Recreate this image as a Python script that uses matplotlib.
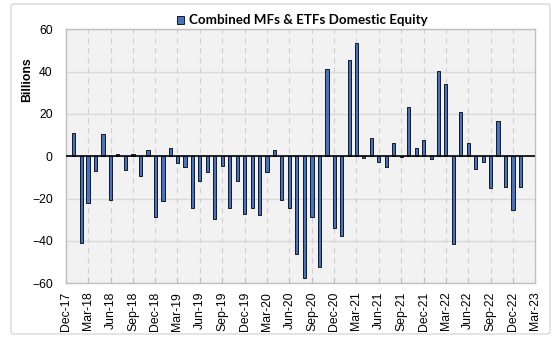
import matplotlib
matplotlib.use("Agg")
import matplotlib.pyplot as plt
import matplotlib.dates as mdates
from matplotlib.patches import Patch, FancyBboxPatch
import pandas as pd

months = pd.date_range("2018-01-01", periods=61, freq="MS")
values = [10.9, -41.1, -22.2, -6.9, 10.4, -20.8, 0.9, -6.6, 0.9, -9.4, 2.8, -28.8,
          -21.1, 3.8, -3.1, -5.0, -24.6, -11.7, -7.6, -29.8, -4.7, -24.6, -11.7, -27.4,
          -24.6, -27.9, -7.6, 2.8, -20.8, -24.6, -46.3, -57.6, -28.8, -52.4, 41.1, -34.0,
          -37.5, 45.5, 53.4, -0.6, 8.5, -2.8, -5.2, 6.1, -0.4, 23.1, 3.8, 7.6,
          -1.1, 40.2, 34.0, -41.3, 20.8, 6.3, -5.8, -2.5, -14.8, 16.5, -14.3, -25.5,
          -14.3]
series_name = "Combined MFs & ETFs Domestic Equity"
y_label = "Billions"
y_ticks = [-60, -40, -20, 0, 20, 40, 60]
x_start, x_end = "2017-12-01", "2023-03-01"

W, H = 558, 340
fig = plt.figure(figsize=(W / 100, H / 100), dpi=100)
fig.patch.set_facecolor("white")

# chart area border
border = FancyBboxPatch((11 / W, 6 / H), (550 - 11) / W, (336 - 6) / H,
                        boxstyle="round,pad=0,rounding_size=0.006",
                        transform=fig.transFigure, fill=False,
                        edgecolor="#D9D9D9", linewidth=1.0)
fig.patches.append(border)

ax = fig.add_axes([66 / W, 1 - 283.3 / H, (535 - 66) / W, (283.3 - 29.3) / H])
ax.set_facecolor("#F2F2F2")

ax.bar(months, values, width=13, color="#4472C4", edgecolor="black",
       linewidth=0.6, zorder=3)
ax.axhline(0, color="black", linewidth=1.2, zorder=4)

ax.set_xlim(pd.Timestamp(x_start), pd.Timestamp(x_end))
ax.set_ylim(-60, 60)
ax.set_yticks(y_ticks)
ax.xaxis.set_major_locator(mdates.MonthLocator(bymonth=[3, 6, 9, 12]))
ax.xaxis.set_major_formatter(mdates.DateFormatter("%b-%y"))

ax.tick_params(axis="y", length=0, pad=9.5)
ax.tick_params(axis="x", direction="in", length=4, color="#BFBFBF", pad=6)
plt.setp(ax.get_xticklabels(), rotation=90, fontfamily="Liberation Sans", fontsize=8.8)
plt.setp(ax.get_yticklabels(), fontfamily="Liberation Sans", fontsize=8.8)

ax.grid(axis="y", color="#D9D9D9", linewidth=1.0, linestyle="-", zorder=0)
ax.grid(axis="x", color="#D0D0D0", linewidth=0.8, linestyle=(0, (5, 4)), zorder=0)
ax.set_axisbelow(True)
for sp in ax.spines.values():
    sp.set_color("#BFBFBF")
    sp.set_linewidth(1.0)

fig.text(27 / W, 1 - 80 / H, y_label, rotation=90, ha="center", va="center",
         fontfamily="Liberation Sans", fontweight="bold", fontsize=8.8)

handle = Patch(facecolor="#4472C4", edgecolor="black", linewidth=0.6)
fig.legend([handle], [series_name], loc="center", bbox_to_anchor=(302 / W, 1 - 20.4 / H),
           frameon=False, handlelength=0.55, handleheight=0.55, handletextpad=0.35,
           prop=dict(family="Lato", weight="bold", size=9.6))

fig.savefig("out.png", dpi=100)
